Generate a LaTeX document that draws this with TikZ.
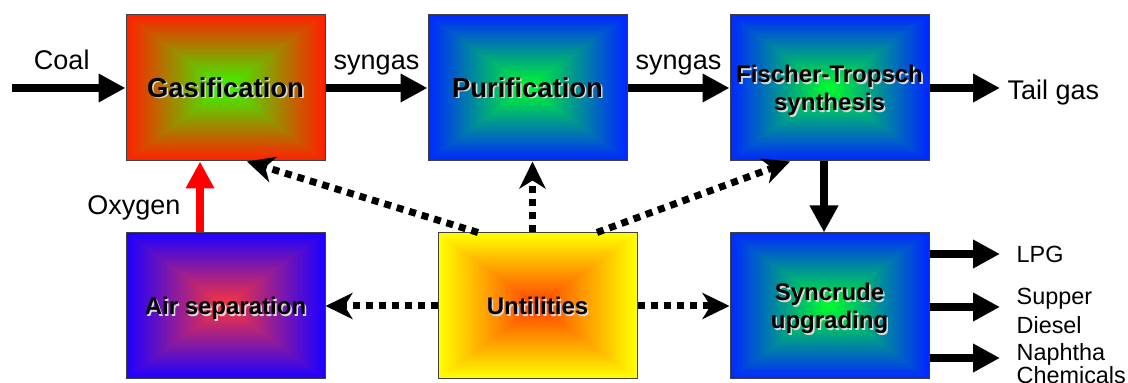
\documentclass[tikz,border=0pt]{standalone}
\usepackage{fontspec}
\setmainfont{Liberation Sans}
\usetikzlibrary{arrows.meta,calc}

\definecolor{gasred}{RGB}{255,32,0}
\definecolor{gasgreen}{RGB}{50,255,0}
\definecolor{ftblue}{RGB}{0,40,255}
\definecolor{ftgreen}{RGB}{0,255,40}
\definecolor{airblue}{RGB}{30,0,255}
\definecolor{airred}{RGB}{255,55,55}
\definecolor{utilyellow}{RGB}{255,255,0}
\definecolor{utilorange}{RGB}{255,60,0}

\newcommand\boxtext[1]{\begin{tabular}{@{}c@{}}#1\end{tabular}}
\newcommand\shadowed[1]{\raisebox{-2pt}[\height][\depth]{\rlap{\kern0.8pt\raisebox{-0.8pt}{\color{white!85!black}\boxtext{#1}}}\boxtext{#1}}}

\begin{document}
\begin{tikzpicture}[x=1pt,y=1pt,
    pyramid/.style 2 args={fill=#1,path picture={
      \foreach \k [evaluate=\k as \f using 1-\k/60, evaluate=\k as \p using \k*100/60] in {1,...,60}
        \fill [#2!\p!#1] ($(path picture bounding box.center)!\f!(path picture bounding box.north east)$) rectangle ($(path picture bounding box.center)!\f!(path picture bounding box.south west)$);}},
    process/.style={draw=black!75,line width=0.5pt,minimum width=99.5pt,minimum height=73pt,inner sep=0pt,font=\fontsize{12}{14}\selectfont\bfseries},
    flow/.style={-{Triangle[length=13.5pt,width=13.5pt]},line width=4pt},
    service/.style={-{Stealth[length=13.5pt,width=13pt,inset=4pt]},line width=3.5pt,dash pattern=on 3.5pt off 3pt},
    streamtext/.style={font=\fontsize{13.5}{15}\selectfont},
    overtext/.style={streamtext,anchor=base,yshift=9pt},
    outtext/.style={font=\fontsize{11.7}{14.5}\selectfont,align=left}]
    \useasboundingbox (0,0) rectangle (564,-191.5);
    \node [process,pyramid={gasred}{gasgreen},font=\fontsize{13.7}{15}\selectfont\bfseries] (gas) at (112.75,-44) {\shadowed{Gasification}};
    \node [process,pyramid={ftblue}{ftgreen},font=\fontsize{13.7}{15}\selectfont\bfseries,right of=gas,node distance=151pt] (pur) {\shadowed{Purification}};
    \node [process,pyramid={ftblue}{ftgreen},right of=pur,node distance=151pt] (ft) {\shadowed{Fischer-Tropsch\\synthesis}};
    \node [process,pyramid={airblue}{airred},below of=gas,node distance=109pt] (air) {\shadowed{Air separation}};
    \node [process,pyramid={utilyellow}{utilorange},right of=air,node distance=156pt] (util) {\shadowed{Untilities}};
    \node [process,pyramid={ftblue}{ftgreen},below of=ft,node distance=109pt] (sync) {\shadowed{Syncrude\\upgrading}};
    \coordinate (coal) at (6,-44);
    \coordinate (tail) at (500,-44);
    \coordinate (lpg) at (500,-127);
    \coordinate (diesel) at (500,-153.5);
    \coordinate (naphtha) at (500,-179);
    \draw [flow] (coal) -- node[overtext,xshift=-3.5pt] {Coal} (gas);
    \draw [flow] (gas) -- node[overtext] {syngas} (pur);
    \draw [flow] (pur) -- node[overtext] {syngas} (ft);
    \draw [flow] (ft) -- (tail) node[streamtext,right,xshift=-1.5pt,yshift=-2.5pt] {Tail gas};
    \draw [flow,red] ([xshift=-12.75pt]air.north) -- node[streamtext,text=black,left,xshift=-4.5pt,yshift=-5.5pt] {Oxygen} ([xshift=-12.75pt]gas.south);
    \draw [flow] ([xshift=-2.75pt]ft.south) -- ([xshift=-2.75pt]sync.north);
    \draw [flow] (sync.east |- lpg) -- (lpg) node[outtext,right,xshift=3pt] {LPG};
    \draw [flow] (sync.east |- diesel) -- (diesel) node[outtext,right,xshift=3pt,yshift=-2pt] {Supper\\Diesel};
    \draw [flow] (sync.east |- naphtha) -- (naphtha) node[outtext,right,xshift=3pt,yshift=-3pt,font=\fontsize{11.7}{11.5}\selectfont] {Naphtha\\Chemicals};
    \draw [service] (util) -- (air);
    \draw [service] (util) -- (sync);
    \draw [service] ([xshift=-2.5pt]util.north) -- ([xshift=-2.5pt]util.north |- pur.south);
    \draw [service] ([xshift=-29.75pt]util.north) -- ([xshift=10.75pt]gas.south);
    \draw [service] ([xshift=29.75pt]util.north) -- ([xshift=-19.75pt]ft.south);
\end{tikzpicture}
\end{document}
